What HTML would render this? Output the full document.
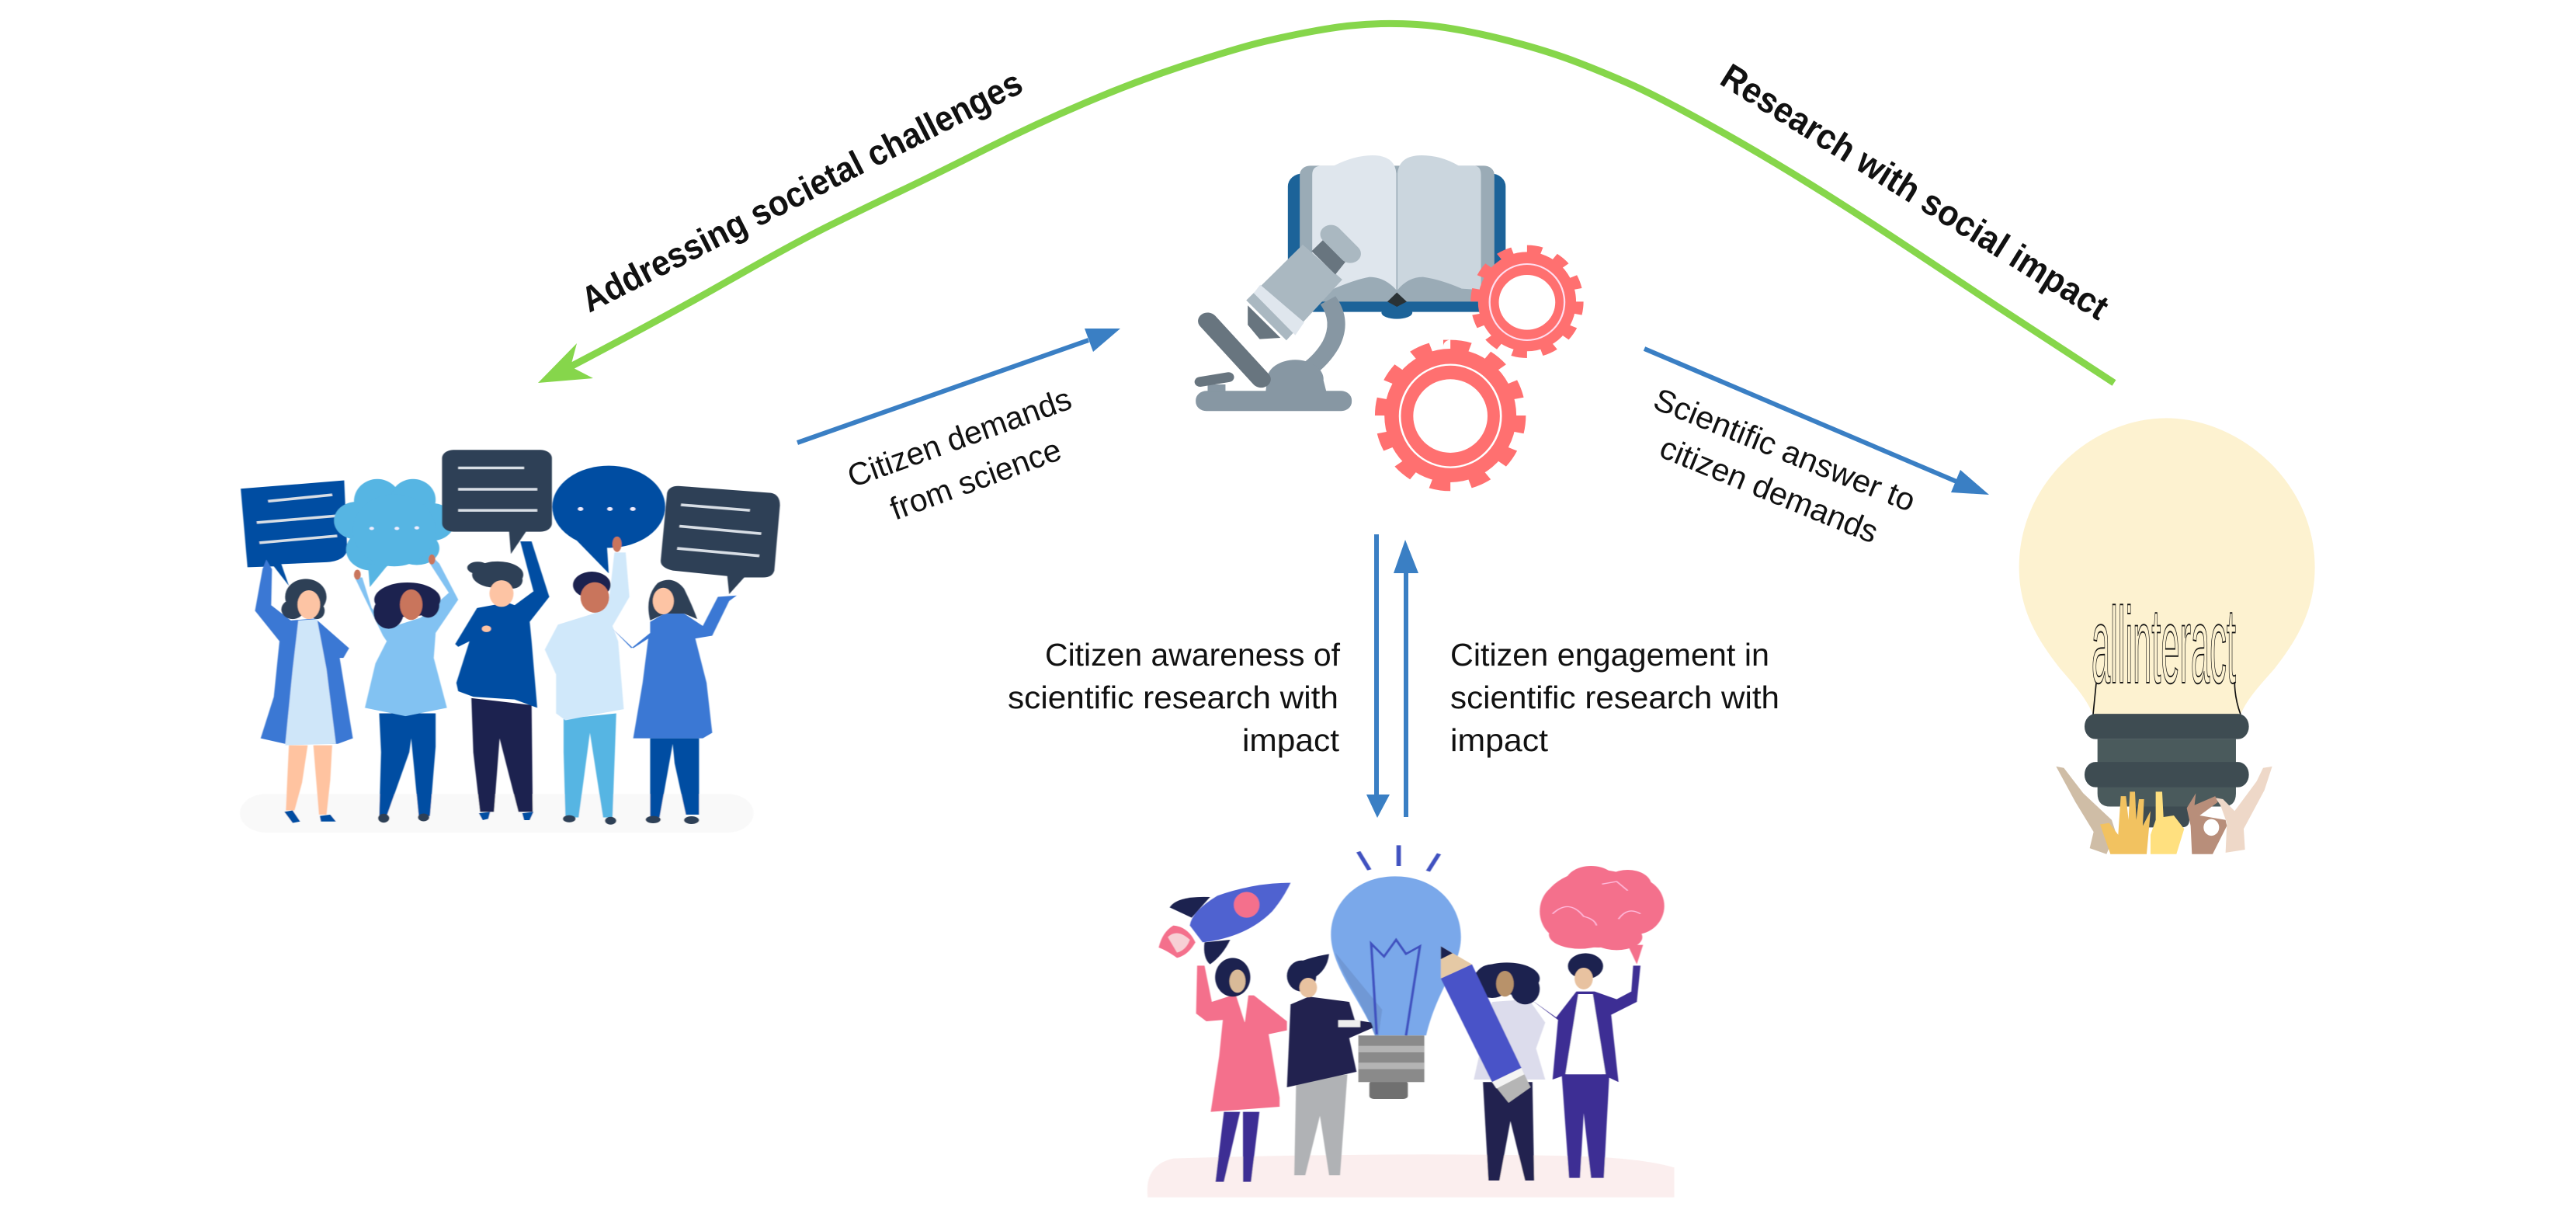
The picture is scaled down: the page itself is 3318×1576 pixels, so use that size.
<!DOCTYPE html>
<html><head><meta charset="utf-8"><title>Diagram</title>
<style>html,body{margin:0;padding:0;background:#fff}svg{display:block}text{font-family:"Liberation Sans",sans-serif;fill:#111}</style>
</head><body>
<svg xmlns="http://www.w3.org/2000/svg" width="3318" height="1576" viewBox="0 0 3318 1576">
<defs><filter id="b" x="-5%" y="-5%" width="110%" height="110%"><feGaussianBlur stdDeviation="1"/></filter></defs>
<rect width="3318" height="1576" fill="#fff"/>

<!-- citizens with speech bubbles -->
<g transform="translate(280,540) scale(.4847,.3571)" filter="url(#b)">
<rect x="60" y="1350" width="1365" height="140" rx="70" fill="#f9f9f9"/>
<path d="M62,250 337,220 345,470Q340,510 290,515L170,522 190,600 150,530 80,533Z" fill="#034ea2"/>
<g stroke="#d8dee5" stroke-width="10"><path d="M135,295 305,272M105,372 315,348M112,445 318,420"/></g>
<g fill="#56b5e3"><ellipse cx="425" cy="295" rx="62" ry="80"/><ellipse cx="520" cy="290" rx="60" ry="75"/><ellipse cx="370" cy="365" rx="60" ry="68"/><ellipse cx="570" cy="370" rx="60" ry="68"/><ellipse cx="410" cy="470" rx="68" ry="75"/><ellipse cx="530" cy="465" rx="60" ry="60"/><ellipse cx="470" cy="400" rx="110" ry="130"/><path d="M400,520 405,605 450,530Z"/></g>
<g fill="#eef"><circle cx="410" cy="393" r="6"/><circle cx="477" cy="393" r="6"/><circle cx="530" cy="391" r="6"/></g>
<path d="M775,400 780,485 820,405Z" fill="#2e4057"/>
<rect x="597" y="110" width="292" height="295" rx="30" fill="#2e4057"/>
<g stroke="#d8dee5" stroke-width="10"><path d="M640,175H815M640,252H850M640,328H850"/></g>
<path d="M950,430 1040,555 1035,450Z" fill="#034ea2"/>
<ellipse cx="1040" cy="315" rx="150" ry="148" fill="#034ea2"/>
<g fill="#eef"><circle cx="965" cy="323" r="7"/><circle cx="1043" cy="323" r="7"/><circle cx="1104" cy="323" r="7"/></g>
<path d="M1225,240 1470,265Q1495,270 1495,310L1480,545Q1475,570 1450,570H1400L1360,630 1355,565 1210,545Q1178,535 1178,510L1195,265Q1200,240 1225,240Z" fill="#2e4057"/>
<g stroke="#d8dee5" stroke-width="10"><path d="M1232,308 1415,328M1228,385 1445,412M1222,465 1440,492"/></g>

<!-- P1 -->
<path d="M190,1175H240L225,1310 205,1410H182ZM255,1175H305L300,1300 290,1425H270Z" fill="#ffc3a0"/>
<path d="M100,690 120,540 130,505 145,540 143,670 195,725 260,718 350,825 335,860H325L360,1150 320,1170H180L115,1150 150,1000 165,800Z" fill="#3b78d4"/>
<path d="M215,725 265,720 290,900 315,1170 180,1175 200,900Z" fill="#cfe6f9"/>
<g fill="#2e4057"><ellipse cx="235" cy="640" rx="55" ry="65"/><ellipse cx="200" cy="685" rx="30" ry="35"/><ellipse cx="265" cy="690" rx="20" ry="30"/></g>
<ellipse cx="243" cy="668" rx="30" ry="52" fill="#fdc4a4"/>
<path d="M178,1415 200,1410 220,1450 200,1455ZM272,1430 300,1425 315,1450H275Z" fill="#034ea2"/>

<!-- P2 -->
<path d="M430,1060H580V1180L565,1430H535L515,1150 510,1200 450,1430H430L435,1200Z" fill="#034ea2"/>
<path d="M440,780 365,570 385,570 410,680 460,750 540,715 615,625 565,520 575,500 590,520 640,650 580,770 575,860 610,1040 500,1070 392,1040 420,880 450,800Z" fill="#82c2f2"/>
<g fill="#1f2250"><ellipse cx="505" cy="650" rx="88" ry="62"/><ellipse cx="455" cy="695" rx="40" ry="60"/><ellipse cx="560" cy="670" rx="30" ry="45"/></g>
<ellipse cx="515" cy="668" rx="30" ry="55" fill="#c9745c"/>
<ellipse cx="372" cy="560" rx="9" ry="18" fill="#c9745c"/>
<ellipse cx="570" cy="505" rx="9" ry="18" fill="#c9745c"/>
<g fill="#2e4057"><ellipse cx="442" cy="1438" rx="15" ry="16"/><ellipse cx="548" cy="1435" rx="15" ry="14"/></g>

<!-- P3 -->
<path d="M675,1005 835,1030 838,1415H800L750,1150 735,1415H698L680,1200Z" fill="#1f2250"/>
<path d="M690,680 770,660 790,670 840,620 805,440 835,440 882,640 830,730 835,800 850,1040 790,1010 680,1000 640,980 635,950 670,800 640,820 632,810Z" fill="#034ea2"/>
<g fill="#2e4057"><ellipse cx="745" cy="560" rx="68" ry="48"/><ellipse cx="692" cy="535" rx="28" ry="22"/><ellipse cx="785" cy="580" rx="26" ry="30"/></g>
<ellipse cx="755" cy="628" rx="32" ry="48" fill="#fdc4a4"/>
<path d="M695,1420 725,1415 720,1440 705,1445ZM810,1420 840,1415 830,1445 815,1445Z" fill="#034ea2"/>
<circle cx="715" cy="755" r="12" fill="#fdc4a4"/>

<!-- P4 -->
<path d="M920,1080 1060,1060 1050,1435H1025L990,1130 960,1435H925L920,1200Z" fill="#56b5e3"/>
<path d="M1055,480 1085,480 1095,640 1050,745 1065,800 1080,1045 1000,1065 925,1085 900,1060V920L870,830 905,740 1000,700 1040,660Z" fill="#d0e8fa"/>
<ellipse cx="1062" cy="450" rx="12" ry="28" fill="#c9745c"/>
<g fill="#1f2250"><ellipse cx="995" cy="597" rx="50" ry="48"/></g>
<ellipse cx="1003" cy="642" rx="38" ry="55" fill="#c9745c"/>
<g fill="#2e4057"><ellipse cx="935" cy="1440" rx="17" ry="13"/><ellipse cx="1045" cy="1447" rx="15" ry="14"/></g>

<!-- P5 -->
<path d="M1150,1150H1280V1425H1245L1215,1240 1210,1170 1175,1435H1150Z" fill="#034ea2"/>
<path d="M1050,755 1100,825 1150,770V730L1195,695 1240,700 1290,745 1330,640 1380,635 1360,655 1315,780 1270,790 1300,950 1315,1130 1290,1150H1105L1130,950 1145,790 1105,825Z" fill="#3b78d4"/>
<path d="M1150,725Q1135,640 1170,590 1210,560 1240,610 1265,680 1275,720L1240,700H1190Z" fill="#2e4057"/>
<ellipse cx="1185" cy="655" rx="28" ry="48" fill="#fdc4a4"/>
<g fill="#2e4057"><ellipse cx="1158" cy="1443" rx="20" ry="13"/><ellipse cx="1260" cy="1445" rx="20" ry="14"/></g>
</g>

<!-- book, microscope, gears -->
<g transform="translate(1500,180) scale(.3827,.3333)" filter="url(#b)">
<ellipse cx="782" cy="668" rx="52" ry="24" fill="#1f6499"/>
<rect x="415" y="130" width="733" height="535" rx="50" fill="#1f6499"/>
<rect x="455" y="100" width="655" height="525" rx="35" fill="#9aabb6"/>
<path d="M497,135Q497,100 530,100H570Q640,60 700,60 775,60 780,130V580Q740,530 690,530 640,540 560,580H497Z" fill="#dfe6ed"/>
<path d="M1065,135Q1065,100 1040,100H990Q930,60 865,60 790,60 784,130V580Q820,530 870,530 930,540 1000,575L1065,580Z" fill="#cbd6de"/>
<path d="M750,625 782,590 815,625 782,645Z" fill="#2b3035"/>
<path d="M550,620Q600,700 560,790 530,850 480,890" fill="none" stroke="#8797a3" stroke-width="60"/>
<ellipse cx="440" cy="925" rx="95" ry="75" fill="#8797a3"/>
<path d="M345,930H535L545,975H340Z" fill="#8797a3"/>
<rect x="105" y="970" width="525" height="78" rx="36" fill="#8797a3"/>
<rect x="145" y="945" width="60" height="30" fill="#8797a3"/>
<path d="M145,700 325,925" stroke="#68757f" stroke-width="65" stroke-linecap="round"/>
<path d="M120,935 215,917" stroke="#68757f" stroke-width="38" stroke-linecap="round"/>
<path d="M280,640V715L320,770 390,765Z" fill="#68757f"/>
<path d="M465,405 598,540 410,775 275,620Z" fill="#aab8c1"/>
<path d="M300,592 322,560 470,705 440,755Z" fill="#dfe6ed"/>
<path d="M535,385 610,470 575,520 495,430Z" fill="#68757f"/>
<path d="M560,365 625,440" stroke="#aab8c1" stroke-width="72" stroke-linecap="round"/>
<!-- gears -->
<g fill="#ff7070">
<ellipse cx="1220" cy="625" rx="165" ry="192"/>
<ellipse cx="962" cy="1065" rx="222" ry="258"/>
</g>
<ellipse cx="1220" cy="625" rx="172" ry="200" fill="none" stroke="#ff7070" stroke-width="36" pathLength="12" stroke-dasharray=".5 .5"/>
<ellipse cx="962" cy="1065" rx="230" ry="268" fill="none" stroke="#ff7070" stroke-width="48" pathLength="12" stroke-dasharray=".5 .5"/>
<ellipse cx="1220" cy="627" rx="126" ry="147" fill="none" stroke="#fde" stroke-width="6"/>
<ellipse cx="1220" cy="628" rx="95" ry="106" fill="#fff"/>
<ellipse cx="962" cy="1067" rx="170" ry="198" fill="none" stroke="#fff" stroke-width="7"/>
<ellipse cx="962" cy="1067" rx="125" ry="142" fill="#fff"/>
</g>

<!-- bottom group -->
<g transform="translate(1450,1060) scale(.4719,.3333)" filter="url(#b)">
<path d="M60,1445Q50,1320 130,1295 700,1270 1200,1285 1400,1290 1497,1330V1445Z" fill="#fbeeee"/>
<path d="M635,110 665,180M745,85V165M855,118 825,185" stroke="#3f51c0" stroke-width="12" fill="none"/>
<path d="M735,205C850,205 915,320 915,440 915,550 850,640 820,820H680C650,700 560,560 560,430 560,310 630,205 735,205Z" fill="#7aa8ea"/>
<path d="M572,500 700,720 690,820H680C650,700 590,590 572,500Z" fill="#6f98d5"/>
<path d="M685,815 670,465 705,515 738,450 765,505 803,475 765,820" fill="none" stroke="#3f51c0" stroke-width="7"/>
<rect x="665" y="995" width="105" height="70" rx="12" fill="#6f6f6f"/>
<rect x="635" y="820" width="180" height="180" fill="#8a8a8a"/>
<path d="M635,860H815V885H635ZM635,925H815V950H635Z" fill="#b4b4b4"/>
<!-- rocket -->
<path d="M90,480Q100,420 130,395 170,400 190,460 170,510 140,520 110,490 90,480Z" fill="#f4708c"/>
<path d="M115,440Q140,405 175,450 165,490 140,500Z" fill="#f7d0d5"/>
<path d="M120,325Q140,280 230,285L180,365Z" fill="#1f2250"/>
<path d="M215,460 285,450Q265,510 230,545 210,520 215,460Z" fill="#1f2250"/>
<path d="M450,230Q350,230 250,280 180,340 175,395L210,460Q330,440 400,340 430,290 450,230Z" fill="#5062d0"/>
<ellipse cx="330" cy="315" rx="35" ry="50" fill="#f4708c"/>
<!-- woman 1 -->
<path d="M268,1115H312L268,1385H245ZM320,1115H365L342,1385H320Z" fill="#3d2f94"/>
<path d="M195,550 215,550 235,690 290,665H350L440,765V800L390,815 420,1060V1095L232,1115 255,900 265,760 220,765 192,735Z" fill="#f4708c"/>
<path d="M300,660 335,660 325,770Z" fill="#fff"/>
<g fill="#1f2250"><ellipse cx="292" cy="595" rx="48" ry="75"/></g>
<ellipse cx="305" cy="610" rx="22" ry="45" fill="#d9ba98"/>
<!-- man 2 -->
<path d="M465,1000 605,970 585,1360H555L530,1130 490,1360H460Z" fill="#b0b2b5"/>
<path d="M450,700 500,670 610,690 625,760 670,770 675,790 610,830 630,960 440,1020Z" fill="#23234f"/>
<rect x="580" y="760" width="60" height="28" fill="#eee"/>
<g fill="#1f2250"><ellipse cx="480" cy="590" rx="40" ry="60"/><path d="M455,550Q490,520 555,505 550,570 510,600Z"/></g>
<ellipse cx="498" cy="635" rx="24" ry="38" fill="#e8c2a0"/>
<!-- woman 3 -->
<path d="M975,1000H1110L1115,1380H1090L1050,1150 1020,1380H990Z" fill="#23234f"/>
<path d="M1000,690 1100,680 1145,770 1120,870 1145,990H950L980,800Z" fill="#dcdcec"/>
<g fill="#1f2250"><ellipse cx="1040" cy="600" rx="90" ry="62"/><ellipse cx="1000" cy="610" rx="50" ry="65"/><ellipse cx="1090" cy="640" rx="40" ry="60"/></g>
<ellipse cx="1035" cy="620" rx="24" ry="50" fill="#b8926a"/>
<!-- pencil -->
<path d="M860,475 945,545 860,600Z" fill="#e5c9a5"/>
<path d="M860,475 892,502 860,525Z" fill="#1f2250"/>
<path d="M860,600 945,545 1080,945 1000,1000Z" fill="#4a53c8"/>
<path d="M1000,1000 1080,945 1105,1020 1045,1080Z" fill="#b5b5b5"/>
<path d="M1000,1000 1080,945 1088,970 1012,1025Z" fill="#f4f4f4"/>
<!-- man 4 -->
<path d="M1190,970H1320L1305,1370H1270L1250,1120 1240,1370H1210Z" fill="#3d2f94"/>
<path d="M1105,680 1175,750 1230,650H1280L1340,680 1380,650 1385,550 1405,550 1395,690 1325,740 1345,1000 1300,970H1205L1165,990 1180,760Z" fill="#3d2f94"/>
<path d="M1235,660H1275L1310,970H1200Z" fill="#fff"/>
<ellipse cx="1255" cy="552" rx="48" ry="50" fill="#1f2250"/>
<ellipse cx="1250" cy="600" rx="25" ry="42" fill="#e8c2a0"/>
<!-- brain -->
<g fill="#f4708c"><ellipse cx="1290" cy="330" rx="155" ry="150"/><ellipse cx="1200" cy="340" rx="70" ry="110"/><ellipse cx="1390" cy="320" rx="80" ry="110"/><ellipse cx="1270" cy="230" rx="70" ry="65"/><ellipse cx="1370" cy="240" rx="65" ry="60"/><ellipse cx="1340" cy="440" rx="70" ry="50"/><ellipse cx="1240" cy="430" rx="85" ry="55"/><path d="M1370,470 1395,545 1412,470Z"/></g>
<path d="M1165,350Q1210,290 1250,360 1280,370 1285,395M1345,370Q1370,320 1405,350M1300,235 1340,225 1370,260" fill="none" stroke="#fbd" stroke-width="4"/>
</g>

<!-- light bulb -->
<g transform="translate(2570,520) scale(.3333,.3827)">
<path d="M660,48C940,48 1235,260 1235,550 1235,700 1160,800 1080,890 1020,950 975,990 948,1045H378C350,990 310,950 250,890 170,800 92,700 92,550 92,260 380,48 660,48Z" fill="#fdf2d0"/>
<text x="372" y="938" font-size="363" textLength="558" lengthAdjust="spacingAndGlyphs" style="fill:none;stroke:#111;stroke-width:5">allinteract</text>
<path d="M390,940 378,1045M925,935Q925,990 948,1045" stroke="#111" stroke-width="5" fill="none"/>
<path d="M540,1350H750V1400Q750,1425 720,1425H570Q540,1425 540,1400Z" fill="#3e4c52"/>
<path d="M395,1128H930V1310Q930,1355 880,1355H445Q395,1355 395,1310Z" fill="#4a5a5c"/>
<rect x="345" y="1043" width="635" height="85" rx="42" fill="#3e4c52"/>
<rect x="345" y="1205" width="635" height="85" rx="42" fill="#3e4c52"/>
<path d="M235,1220 265,1225 340,1310 450,1400 465,1440 430,1515 365,1495 380,1440 310,1340Z" fill="#cfbda6"/>
<path d="M405,1415 440,1410 475,1450 485,1320H505L515,1400 520,1305H540L545,1400 555,1330H575L570,1420 600,1370 585,1515H445Z" fill="#f2c260"/>
<path d="M620,1305H645L650,1390 690,1385 730,1430 700,1515H600V1450L620,1400Z" fill="#ffe07f"/>
<path d="M850,1325 880,1330 925,1370 1010,1270 1035,1225 1070,1220 1040,1300 960,1430 965,1500 890,1510 895,1410 870,1350Z" fill="#eed8c8"/>
<path d="M740,1360 775,1310 770,1350 850,1320 860,1340 790,1385 890,1400 895,1420 840,1515H760L755,1420Z" fill="#b88e7a"/>
<ellipse cx="835" cy="1425" rx="30" ry="28" fill="#fff"/>
</g>

<!-- green curve -->
<path d="M735,472Q857,408 940,360.5Q1023,313 1071.5,289Q1120,265 1160,246Q1200,227 1266.5,193.5Q1333,160 1400,131.5Q1467,103 1533.5,81.5Q1600,60 1632.5,52.5Q1665,45 1692.5,40Q1720,35 1740,33Q1760,31 1780,30.5Q1800,30 1825,31.5Q1850,33 1885,39.5Q1920,46 1960,57Q2000,68 2032.5,80.5Q2065,93 2099,108Q2133,123 2200,160Q2267,197 2333.5,238.5Q2400,280 2460,320Q2520,360 2571.5,394Q2623,428 2723,493" fill="none" stroke="#86d64b" stroke-width="9"/>
<path d="M693,493 743,442 735,472 764,487Z" fill="#86d64b"/>

<!-- blue arrows -->
<g stroke="#3a7fc4" stroke-width="6" fill="none">
<path d="M1027,570 1402,438M2118,449 2520,620M1773,688V1025M1811,1052V736"/>
</g>
<g fill="#3a7fc4">
<path d="M1443,423 1397,423 1408,453Z"/>
<path d="M2562,637 2525,605 2513,634Z"/>
<path d="M1774,1053 1760,1023H1790Z"/>
<path d="M1810,695 1795,738H1827Z"/>
</g>

<!-- labels -->
<g font-size="41">
<text transform="translate(1098,628) rotate(-19.9)" textLength="303" lengthAdjust="spacingAndGlyphs">Citizen demands</text>
<text transform="translate(1153,670) rotate(-20.2)" textLength="231" lengthAdjust="spacingAndGlyphs">from science</text>
<text transform="translate(2127,525) rotate(22)" textLength="359" lengthAdjust="spacingAndGlyphs">Scientific answer to</text>
<text transform="translate(2135,587) rotate(22.2)" textLength="299" lengthAdjust="spacingAndGlyphs">citizen demands</text>
<text x="1346" y="857" textLength="380" lengthAdjust="spacingAndGlyphs">Citizen awareness of</text>
<text x="1298" y="912" textLength="426" lengthAdjust="spacingAndGlyphs">scientific research with</text>
<text x="1600" y="967" textLength="125" lengthAdjust="spacingAndGlyphs">impact</text>
<text x="1868" y="857" textLength="411" lengthAdjust="spacingAndGlyphs">Citizen engagement in</text>
<text x="1868" y="912" textLength="424" lengthAdjust="spacingAndGlyphs">scientific research with</text>
<text x="1868" y="967" textLength="126" lengthAdjust="spacingAndGlyphs">impact</text>
</g>
<g font-size="46" font-weight="bold">
<text transform="translate(759,403) rotate(-27)" textLength="630" lengthAdjust="spacingAndGlyphs">Addressing societal challenges</text>
<text transform="translate(2213,107) rotate(32)" textLength="578" lengthAdjust="spacingAndGlyphs">Research with social impact</text>
</g>
</svg>
</body></html>
